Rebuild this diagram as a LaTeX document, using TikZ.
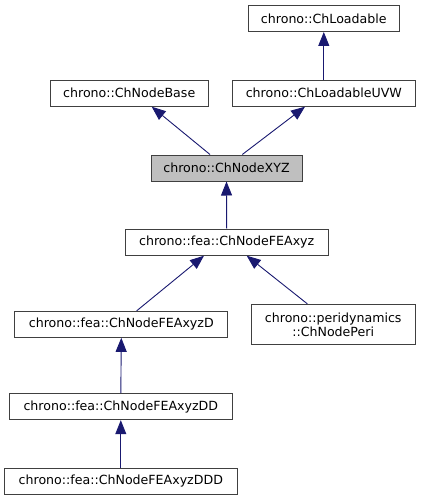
\documentclass[tikz,border=0pt]{standalone}
\usepackage{fontspec}
\setmainfont{DejaVu Sans}
\usetikzlibrary{arrows.meta}
\definecolor{edgec}{HTML}{191970}
\definecolor{boxc}{HTML}{404040}
\definecolor{hlc}{HTML}{BFBFBF}
\tikzset{
  cls/.style={draw=boxc, line width=1pt, fill=white, inner sep=0pt, minimum height=26pt, align=center, font=\fontsize{12.6}{14}\selectfont},
  inh/.style={draw=edgec, line width=0.9pt, -{Triangle[length=14pt,width=11pt]}},
}
\begin{document}
\begin{tikzpicture}[x=1pt,y=-1pt]
\useasboundingbox (0,0) rectangle (421,500);
\node[cls, minimum width=151pt] (loadable) at (323.8,18.5) {chrono::ChLoadable};
\node[cls, minimum width=158pt] (base) at (129.2,93.2) {chrono::ChNodeBase};
\node[cls, minimum width=183pt] (uvw) at (323.8,93.2) {chrono::ChLoadableUVW};
\node[cls, minimum width=151pt, fill=hlc] (xyz) at (226.5,168) {chrono::ChNodeXYZ};
\node[cls, minimum width=203pt] (fea) at (226.7,242.2) {chrono::fea::ChNodeFEAxyz};
\node[cls, minimum width=212.7pt] (fead) at (121.3,324.3) {chrono::fea::ChNodeFEAxyzD};
\node[cls, minimum width=163.7pt, minimum height=40.4pt] (peri) at (333.2,324.5) {chrono::peridynamics\\::ChNodePeri};
\node[cls, minimum width=223pt] (feadd) at (120.8,406.7) {chrono::fea::ChNodeFEAxyzDD};
\node[cls, minimum width=233pt] (feaddd) at (120.8,481.3) {chrono::fea::ChNodeFEAxyzDDD};
\draw[inh] ([xshift=-16.5pt]xyz.north) -- ([xshift=22.5pt]base.south);
\draw[inh] ([xshift=15.8pt]xyz.north) -- ([xshift=-18.8pt]uvw.south);
\draw[inh] (uvw.north) -- (loadable.south);
\draw[inh] (fea.north) -- (xyz.south);
\draw[inh] ([xshift=15.4pt]fead.north) -- ([xshift=-22.7pt]fea.south);
\draw[inh] ([xshift=-25.9pt]peri.north) -- ([xshift=20pt]fea.south);
\draw[inh] (feadd.north) -- (fead.south);
\draw[inh] (feaddd.north) -- (feadd.south);
\end{tikzpicture}
\end{document}
